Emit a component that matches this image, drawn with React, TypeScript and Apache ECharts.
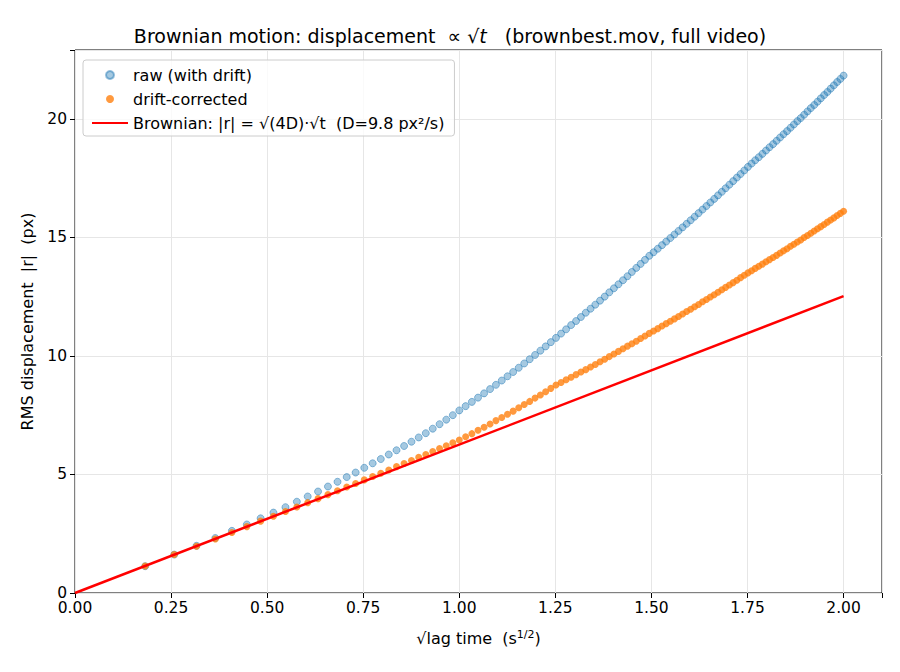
import { useEffect, useRef } from "react";
import * as echarts from "echarts";

// lag in frames (30 fps), k = 1..120
const frameRate = 30;
const lagFrames = Array.from({ length: 120 }, (_, i) => i + 1);

const rawRms = [
  1.13, 1.62, 1.99, 2.32, 2.62, 2.89, 3.15, 3.39, 3.62, 3.85, 4.07, 4.28, 4.49, 4.69, 4.89,
  5.08, 5.28, 5.47, 5.65, 5.84, 6.02, 6.2, 6.38, 6.56, 6.74, 6.93, 7.12, 7.31, 7.5, 7.7,
  7.88, 8.06, 8.24, 8.42, 8.6, 8.78, 8.96, 9.14, 9.32, 9.5, 9.68, 9.86, 10.04, 10.22, 10.4,
  10.58, 10.76, 10.94, 11.12, 11.3, 11.47, 11.64, 11.82, 11.99, 12.16, 12.33, 12.5, 12.68,
  12.85, 13.02, 13.19, 13.36, 13.54, 13.71, 13.88, 14.05, 14.22, 14.37, 14.52, 14.67, 14.82,
  14.97, 15.12, 15.27, 15.42, 15.57, 15.72, 15.87, 16.02, 16.17, 16.32, 16.47, 16.62, 16.77,
  16.92, 17.07, 17.22, 17.37, 17.52, 17.67, 17.82, 17.97, 18.11, 18.25, 18.38, 18.52, 18.66,
  18.8, 18.93, 19.07, 19.21, 19.35, 19.48, 19.62, 19.76, 19.9, 20.03, 20.17, 20.31, 20.45,
  20.58, 20.72, 20.86, 21.0, 21.13, 21.27, 21.41, 21.55, 21.68, 21.82,
];

const correctedRms = [
  1.14, 1.62, 1.97, 2.28, 2.55, 2.8, 3.03, 3.24, 3.44, 3.63, 3.81, 3.98, 4.15, 4.31, 4.47,
  4.62, 4.77, 4.91, 5.05, 5.19, 5.33, 5.46, 5.59, 5.72, 5.84, 5.97, 6.09, 6.21, 6.33, 6.45,
  6.59, 6.72, 6.86, 6.99, 7.13, 7.27, 7.4, 7.54, 7.67, 7.81, 7.95, 8.08, 8.22, 8.35, 8.49,
  8.63, 8.77, 8.88, 8.99, 9.1, 9.21, 9.32, 9.42, 9.53, 9.64, 9.75, 9.86, 9.97, 10.08, 10.19,
  10.3, 10.41, 10.51, 10.62, 10.73, 10.84, 10.95, 11.05, 11.15, 11.26, 11.36, 11.46, 11.56,
  11.66, 11.77, 11.87, 11.97, 12.07, 12.17, 12.28, 12.38, 12.48, 12.58, 12.68, 12.79, 12.89,
  12.99, 13.09, 13.19, 13.3, 13.4, 13.5, 13.59, 13.69, 13.78, 13.87, 13.97, 14.06, 14.15,
  14.24, 14.34, 14.43, 14.52, 14.62, 14.71, 14.8, 14.89, 14.99, 15.08, 15.17, 15.27, 15.36,
  15.45, 15.54, 15.64, 15.73, 15.82, 15.92, 16.01, 16.1,
];

// Brownian fit line endpoints (sqrt(t), |r|)
const fitLine = [
  [0, 0],
  [2.0, 12.52],
];

const FONT = "DejaVu Sans";
const FIT_NAME = "Brownian: |r| = √(4D)·√t  (D=9.8 px²/s)";

export default function App() {
  const chartRef = useRef<HTMLDivElement>(null);

  useEffect(() => {
    if (!chartRef.current) return;
    const chart = echarts.init(chartRef.current, null, { renderer: "svg" });

    const sqrtLag = lagFrames.map((k) => Math.sqrt(k / frameRate));
    const raw = sqrtLag.map((x, i) => [x, rawRms[i]]);
    const corr = sqrtLag.map((x, i) => [x, correctedRms[i]]);

    chart.setOption({
      animation: false,
      textStyle: { fontFamily: FONT },
      title: {
        text: "Brownian motion: displacement  ∝ {r|√}{t|t}   (brownbest.mov, full video)",
        left: "center",
        top: 13,
        textStyle: {
          fontFamily: FONT,
          fontSize: 19,
          fontWeight: "normal",
          color: "#000",
          rich: {
            r: { fontFamily: FONT, fontSize: 19, color: "#000" },
            t: { fontFamily: FONT, fontSize: 19, fontStyle: "italic", color: "#000" },
          },
        },
      },
      grid: {
        left: 67,
        right: 10,
        top: 42,
        bottom: 71,
        show: true,
        borderColor: "#000",
        borderWidth: 1,
      },
      legend: {
        orient: "vertical",
        left: 75,
        top: 52,
        padding: [7, 10, 5, 8],
        itemGap: 8,
        itemWidth: 36,
        itemHeight: 8,
        backgroundColor: "rgba(255,255,255,0.8)",
        borderColor: "#ccc",
        borderWidth: 1,
        borderRadius: 3,
        textStyle: { fontFamily: FONT, fontSize: 16, color: "#000" },
        data: [
          { name: "raw (with drift)", icon: "circle" },
          { name: "drift-corrected", icon: "circle" },
          { name: FIT_NAME, itemStyle: { opacity: 0 } },
        ],
      },
      xAxis: {
        type: "value",
        min: 0,
        max: 2.1,
        interval: 0.25,
        name: "{r|√}{o|lag time}  (s{s|1/2})",
        nameLocation: "middle",
        nameGap: 36,
        nameTextStyle: {
          fontFamily: FONT,
          fontSize: 16,
          color: "#000",
          rich: {
            r: { fontFamily: FONT, fontSize: 16, color: "#000" },
            o: { fontFamily: FONT, fontSize: 16, color: "#000" },
            s: { fontFamily: FONT, fontSize: 11, color: "#000", verticalAlign: "top", padding: [0, 0, 8, 0] },
          },
        },
        axisLine: { show: false },
        axisTick: { show: true, length: 5, lineStyle: { color: "#000" } },
        axisLabel: {
          fontFamily: FONT,
          fontSize: 15.5,
          color: "#000",
          margin: 7,
          formatter: (v: number) => (v > 2.01 ? "" : v.toFixed(2)),
        },
        splitLine: { show: true, lineStyle: { color: "#e6e6e6", width: 1 } },
      },
      yAxis: {
        type: "value",
        min: 0,
        max: 22.9,
        interval: 5,
        name: "RMS displacement  |r|  (px)",
        nameLocation: "middle",
        nameGap: 40,
        nameTextStyle: { fontFamily: FONT, fontSize: 16, color: "#000" },
        axisLine: { show: false },
        axisTick: { show: true, length: 5, lineStyle: { color: "#000" } },
        axisLabel: {
          fontFamily: FONT,
          fontSize: 15.5,
          color: "#000",
          margin: 8,
          formatter: (v: number) => (v > 21 ? "" : String(v)),
        },
        splitLine: { show: true, lineStyle: { color: "#e6e6e6", width: 1 } },
      },
      series: [
        {
          name: "raw (with drift)",
          type: "scatter",
          data: raw,
          symbolSize: 7,
          itemStyle: {
            color: "rgba(31,119,180,0.5)",
            borderColor: "rgba(31,119,180,0.6)",
            borderWidth: 1,
          },
          z: 2,
        },
        {
          name: "drift-corrected",
          type: "scatter",
          data: corr,
          symbolSize: 7,
          itemStyle: { color: "#ff7f0e" },
          z: 3,
        },
        {
          name: FIT_NAME,
          type: "line",
          data: fitLine,
          showSymbol: false,
          symbol: "none",
          lineStyle: { color: "#ff0000", width: 2.5 },
          itemStyle: { color: "#ff0000" },
          z: 4,
        },
      ],
    });

    return () => chart.dispose();
  }, []);

  return <div ref={chartRef} style={{ width: 884, height: 656 }} />;
}
